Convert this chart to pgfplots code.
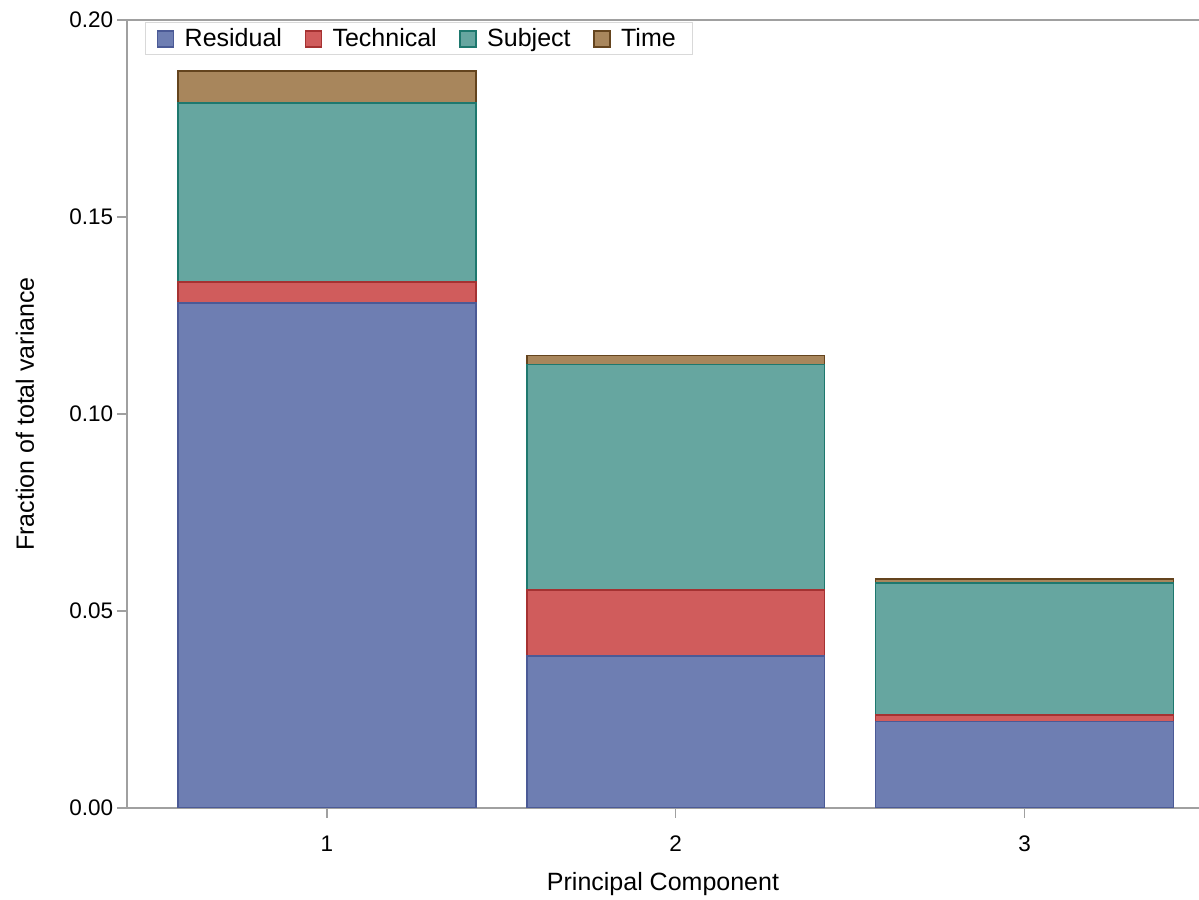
\documentclass[border=0pt]{standalone}
\usepackage{pgfplots}
\pgfplotsset{compat=1.18}
\usepackage{fontspec}
\setmainfont{Liberation Sans}
\definecolor{resF}{RGB}{110,126,178}
\definecolor{resE}{RGB}{75,90,150}
\definecolor{tecF}{RGB}{208,92,92}
\definecolor{tecE}{RGB}{165,50,50}
\definecolor{subF}{RGB}{102,166,160}
\definecolor{subE}{RGB}{30,120,110}
\definecolor{timF}{RGB}{168,134,92}
\definecolor{timE}{RGB}{100,68,30}
\definecolor{axgray}{RGB}{160,160,160}
\begin{document}
\begin{tikzpicture}
\begin{axis}[
  scale only axis,
  width=428.8pt, height=315.2pt,
  ybar stacked, bar width=0.854,
  xmin=0.427, xmax=3.5,
  ymin=0, ymax=0.2,
  axis x line*=box, axis y line*=left,
  axis line style={axgray, line width=0.8pt},
  xtick={1,2,3}, xtick pos=bottom,
  ytick={0,0.05,0.1,0.15,0.2},
  tick align=outside, major tick length=4pt,
  tick style={axgray, line width=0.6pt},
  yticklabel style={/pgf/number format/fixed, /pgf/number format/fixed zerofill, /pgf/number format/precision=2, font=\fontsize{9}{10}\selectfont, xshift=2pt},
  xticklabel style={font=\fontsize{9}{10}\selectfont, yshift=-3.5pt},
  /pgf/number format/assume math mode=true,
  xlabel={Principal Component},
  ylabel={Fraction of total variance},
  every axis x label/.style={at={(rel axis cs:0.5,-0.0964)}, anchor=center, font=\fontsize{10}{12}\selectfont},
  every axis y label/.style={at={(rel axis cs:-0.0951,0.5)}, rotate=90, anchor=center, font=\fontsize{10}{12}\selectfont},
  legend columns=4,
  legend style={at={(0,1)}, anchor=north west, xshift=7.2pt, yshift=-1pt, draw=black!15, font=\fontsize{10}{12}\selectfont, inner xsep=4.5pt, inner ysep=1pt,
    nodes={inner ysep=1pt},
    /tikz/every odd column/.append style={column sep=2.2pt},
    /tikz/every even column/.append style={column sep=7pt}},
  legend image code/.code={\draw[#1, line width=0.6pt] (0pt,-3.2pt) rectangle (6.4pt,3.2pt);},
]
\addplot[fill=resF, draw=resE, line width=0.6pt] coordinates {(1,0.1282) (2,0.0386) (3,0.0220)};
\addplot[fill=tecF, draw=tecE, line width=0.6pt] coordinates {(1,0.0053) (2,0.0167) (3,0.0016)};
\addplot[fill=subF, draw=subE, line width=0.6pt] coordinates {(1,0.0454) (2,0.0573) (3,0.0335)};
\addplot[fill=timF, draw=timE, line width=0.6pt] coordinates {(1,0.0082) (2,0.0022) (3,0.0010)};
\legend{Residual, Technical, Subject, Time}
\end{axis}
\pgfresetboundingbox
\useasboundingbox ([xshift=-50.8pt,yshift=-36.8pt]current axis.south west) rectangle ([yshift=8pt]current axis.north east);
\end{tikzpicture}
\end{document}
